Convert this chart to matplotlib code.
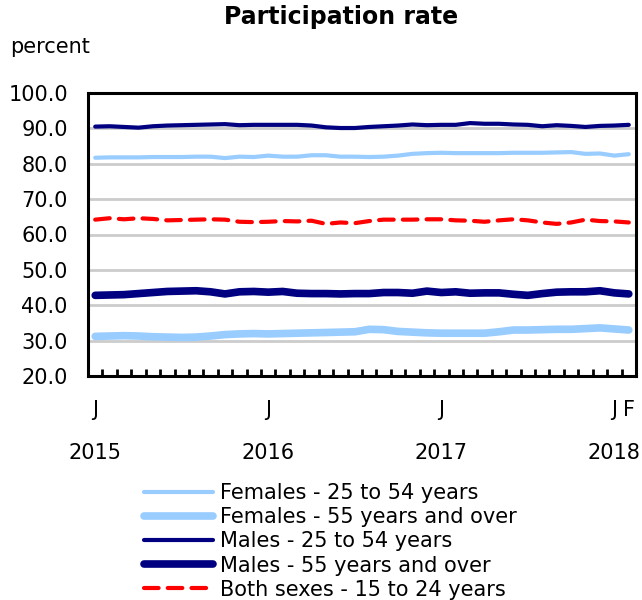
import matplotlib
matplotlib.use("Agg")
import matplotlib.pyplot as plt
import numpy as np

plt.rcParams['font.family'] = ['DejaVu Sans']

months = ['J', 'F', 'M', 'A', 'M', 'J', 'J', 'A', 'S', 'O', 'N', 'D'] * 3 + ['J', 'F']
years = ['2015', '2016', '2017', '2018']
year_pos = [0, 12, 24, 36]

females_25_54 = [81.7, 81.8, 81.8, 81.8, 81.9, 81.9, 81.9, 82.0, 82.0, 81.6, 82.0, 81.9,
                 82.3, 82.0, 82.0, 82.4, 82.4, 82.0, 82.0, 81.9, 82.0, 82.3, 82.8, 83.0,
                 83.1, 83.0, 83.0, 83.0, 83.0, 83.1, 83.1, 83.1, 83.2, 83.3, 82.8, 82.9,
                 82.3, 82.7]
females_55_over = [31.2, 31.3, 31.4, 31.3, 31.1, 31.0, 30.9, 31.0, 31.3, 31.7, 31.9, 32.0,
                   31.9, 32.0, 32.1, 32.2, 32.3, 32.4, 32.5, 33.2, 33.1, 32.6, 32.4, 32.2,
                   32.1, 32.1, 32.1, 32.1, 32.5, 33.0, 33.0, 33.1, 33.2, 33.2, 33.4, 33.6,
                   33.3, 33.0]
males_25_54 = [90.5, 90.6, 90.4, 90.2, 90.6, 90.8, 90.9, 91.0, 91.1, 91.2, 90.9, 91.0,
               91.0, 91.0, 91.0, 90.8, 90.3, 90.1, 90.1, 90.4, 90.6, 90.8, 91.1, 90.9,
               91.0, 91.0, 91.5, 91.3, 91.3, 91.1, 91.0, 90.6, 90.9, 90.7, 90.4, 90.7,
               90.8, 91.0]
males_55_over = [42.8, 42.9, 43.0, 43.3, 43.6, 43.9, 44.0, 44.1, 43.8, 43.2, 43.8, 43.9,
                 43.7, 43.9, 43.4, 43.3, 43.3, 43.2, 43.3, 43.3, 43.6, 43.6, 43.4, 44.0,
                 43.6, 43.8, 43.4, 43.5, 43.5, 43.1, 42.8, 43.3, 43.7, 43.8, 43.8, 44.1,
                 43.5, 43.2]
both_15_24 = [64.2, 64.6, 64.3, 64.6, 64.4, 64.0, 64.1, 64.2, 64.3, 64.2, 63.6, 63.5,
              63.6, 63.8, 63.7, 63.9, 63.0, 63.4, 63.2, 63.8, 64.2, 64.2, 64.2, 64.3,
              64.3, 64.0, 63.9, 63.6, 64.0, 64.3, 64.0, 63.4, 63.0, 63.4, 64.2, 63.8,
              63.7, 63.4]

labels = ['Females - 25 to 54 years', 'Females - 55 years and over',
          'Males - 25 to 54 years', 'Males - 55 years and over',
          'Both sexes - 15 to 24 years']

LIGHT = '#99CCFF'
NAVY = '#000080'
RED = '#FF0000'
FS = 15

fig = plt.figure(figsize=(6.42, 6.0), dpi=100)
ax = fig.add_axes([88/642, 1-376/600, (636-88)/642, (376-93)/600])

x = np.arange(len(months))
ax.plot(x, females_25_54, color=LIGHT, lw=3, solid_capstyle='round', label=labels[0], zorder=3)
ax.plot(x, females_55_over, color=LIGHT, lw=5.5, solid_capstyle='round', label=labels[1], zorder=3)
ax.plot(x, males_25_54, color=NAVY, lw=3, solid_capstyle='round', label=labels[2], zorder=3)
ax.plot(x, males_55_over, color=NAVY, lw=5.5, solid_capstyle='round', label=labels[3], zorder=3)
ax.plot(x, both_15_24, color=RED, lw=3, dashes=(3.5, 2.2), dash_capstyle='round', label=labels[4], zorder=3)

ax.set_xlim(-0.5, len(months) - 0.5)
ax.set_ylim(20, 100)
yt = np.arange(20, 101, 10)
ax.set_yticks(yt)
ax.set_yticklabels([f'{v:.1f}' for v in yt], fontsize=FS)
ax.tick_params(axis='y', length=0, pad=14.5)
ax.grid(axis='y', color='#CCCCCC', lw=2)
ax.set_axisbelow(True)

lab_idx = [0, 12, 24, 36, 37]
ax.set_xticks(lab_idx)
ax.set_xticklabels([months[i] for i in lab_idx], fontsize=FS)
ax.set_xticks(np.arange(-0.5, len(months) - 0.4, 1), minor=True)
ax.tick_params(axis='x', which='major', length=0, pad=17)
ax.tick_params(axis='x', which='minor', direction='in', length=5, width=2, color='black')

for yp, yr in zip(year_pos, years):
    ax.text(yp, -(453-376)/283, yr, transform=ax.get_xaxis_transform(),
            ha='center', va='center', fontsize=FS)

for s in ax.spines.values():
    s.set_linewidth(2.2)
    s.set_color('black')

fig.text(341/642, 1-17/600, 'Participation rate', ha='center', va='center',
         fontsize=17, fontweight='bold')
fig.text(10/642, 1-47/600, 'percent', ha='left', va='center', fontsize=FS)

handles, labs = ax.get_legend_handles_labels()
fig.legend(handles, labs, loc='upper left', bbox_to_anchor=(144/642, 1-483/600),
           frameon=False, fontsize=FS, handlelength=3.3, handletextpad=0.35,
           labelspacing=0.2, borderpad=0, borderaxespad=0)

fig.savefig('out.png', dpi=100)
